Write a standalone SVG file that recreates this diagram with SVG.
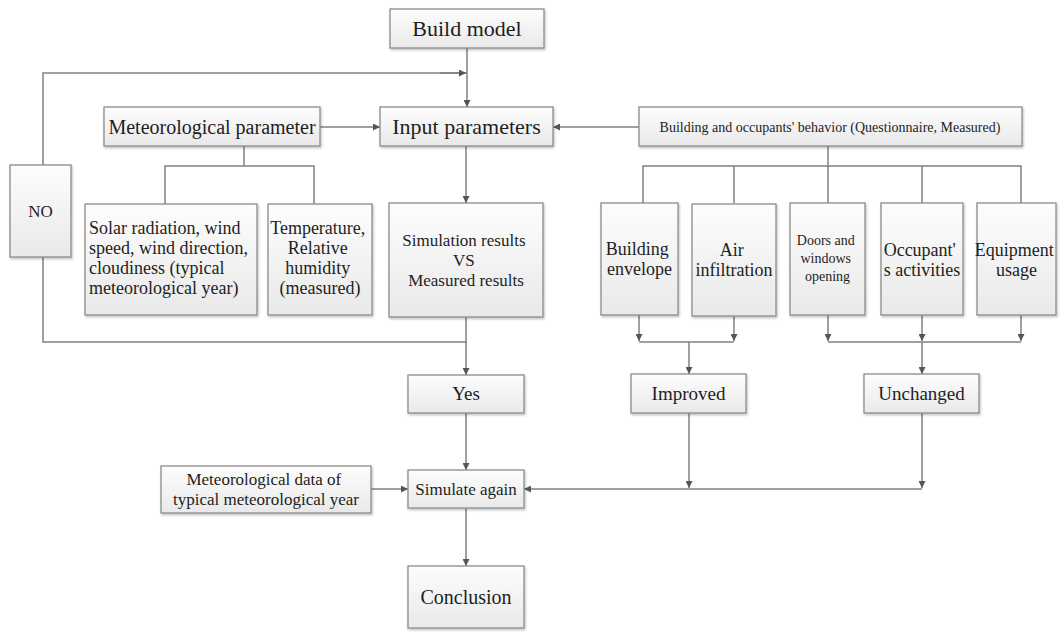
<svg xmlns="http://www.w3.org/2000/svg" width="1060" height="632" viewBox="0 0 1060 632">
  <defs>
    <linearGradient id="boxFill" x1="0" y1="0" x2="0" y2="1">
      <stop offset="0" stop-color="#fdfdfd"/>
      <stop offset="1" stop-color="#e9e9e9"/>
    </linearGradient>
    <filter id="shadow" x="-5%" y="-5%" width="115%" height="120%">
      <feDropShadow dx="1" dy="1.5" stdDeviation="0.8" flood-color="#000" flood-opacity="0.25"/>
    </filter>
    <marker id="arrow" viewBox="0 0 10 10" refX="10" refY="5" markerWidth="7" markerHeight="7" markerUnits="userSpaceOnUse" orient="auto">
      <path d="M0,0 L10,5 L0,10 z" fill="#555"/>
    </marker>
  </defs>
  <style>
    .box { fill: url(#boxFill); stroke: #8c8c8c; stroke-width: 1.3; filter: url(#shadow); }
    .t { font-family: "Liberation Serif", "Times New Roman", serif; fill: #1e1e1e; text-anchor: middle; }
    .wire { fill: none; stroke: #808080; stroke-width: 1.5; }
    .arr { fill: none; stroke: #808080; stroke-width: 1.5; marker-end: url(#arrow); }
  </style>
  <rect width="1060" height="632" fill="#ffffff"/>

  <!-- connectors -->
  <g id="connectors">
    <!-- build model to input parameters -->
    <line class="arr" x1="467" y1="48" x2="467" y2="107"/>
    <!-- NO feedback loop -->
    <polyline class="wire" points="43,165 43,73 467,73"/>
    <line class="arr" x1="440" y1="73" x2="466" y2="73"/>
    <polyline class="wire" points="467,342 43,342 43,257"/>
    <!-- side inputs -->
    <line class="arr" x1="320" y1="127" x2="380" y2="127"/>
    <line class="arr" x1="639" y1="127" x2="553" y2="127"/>
    <!-- meteorological parameter branches -->
    <line class="wire" x1="244" y1="146" x2="244" y2="166"/>
    <polyline class="wire" points="165,204 165,166 314,166 314,204"/>
    <!-- input parameters to comparison -->
    <line class="arr" x1="466" y1="146" x2="466" y2="203"/>
    <!-- comparison to Yes -->
    <line class="arr" x1="466" y1="317" x2="466" y2="375"/>
    <!-- building behaviour branches -->
    <line class="wire" x1="828" y1="146" x2="828" y2="203"/>
    <polyline class="wire" points="643,203 643,166 1021,166 1021,203"/>
    <line class="wire" x1="734" y1="166" x2="734" y2="203"/>
    <line class="wire" x1="922" y1="166" x2="922" y2="203"/>
    <!-- factors to Improved -->
    <line class="arr" x1="639" y1="315" x2="639" y2="341"/>
    <line class="arr" x1="734" y1="316" x2="734" y2="341"/>
    <line class="wire" x1="639" y1="342" x2="734" y2="342"/>
    <line class="arr" x1="689" y1="342" x2="689" y2="374"/>
    <!-- factors to Unchanged -->
    <line class="arr" x1="828" y1="315" x2="828" y2="341"/>
    <line class="arr" x1="922" y1="315" x2="922" y2="341"/>
    <line class="arr" x1="1021" y1="315" x2="1021" y2="341"/>
    <line class="wire" x1="828" y1="342" x2="1021" y2="342"/>
    <line class="arr" x1="922" y1="342" x2="922" y2="374"/>
    <!-- Improved / Unchanged to simulate again -->
    <line class="arr" x1="689" y1="413" x2="689" y2="488"/>
    <line class="arr" x1="922" y1="413" x2="922" y2="488"/>
    <line class="arr" x1="922" y1="489" x2="524" y2="489"/>
    <!-- Yes to simulate again -->
    <line class="arr" x1="466" y1="413" x2="466" y2="470"/>
    <!-- typical year data to simulate again -->
    <line class="arr" x1="371" y1="489" x2="408" y2="489"/>
    <!-- simulate again to conclusion -->
    <line class="arr" x1="466" y1="508" x2="466" y2="566"/>
  </g>

  <g id="build-model">
    <rect class="box" x="390" y="9" width="154" height="39"/>
    <text class="t" x="467" y="36" font-size="22">Build model</text>
  </g>

  <g id="input-parameters">
    <rect class="box" x="380" y="107" width="173" height="39"/>
    <text class="t" x="466.5" y="134" font-size="22">Input parameters</text>
  </g>

  <g id="meteorological-parameter">
    <rect class="box" x="104" y="107" width="216" height="39"/>
    <text class="t" x="212" y="134" font-size="20">Meteorological parameter</text>
  </g>

  <g id="building-behaviour">
    <rect class="box" x="639" y="107" width="383" height="39"/>
    <text class="t" x="830" y="132" font-size="14">Building and occupants' behavior (Questionnaire, Measured)</text>
  </g>

  <g id="no">
    <rect class="box" x="10" y="165" width="61" height="92"/>
    <text class="t" x="40.5" y="217" font-size="17">NO</text>
  </g>

  <g id="solar-radiation">
    <rect class="box" x="85" y="204" width="172" height="111"/>
    <text class="t" font-size="18" style="text-anchor:start">
      <tspan x="89" y="234">Solar radiation, wind</tspan>
      <tspan x="89" y="254">speed, wind direction,</tspan>
      <tspan x="89" y="274">cloudiness (typical</tspan>
      <tspan x="89" y="294">meteorological year)</tspan>
    </text>
  </g>

  <g id="temperature">
    <rect class="box" x="268" y="204" width="104" height="111"/>
    <text class="t" font-size="18">
      <tspan x="320" y="234">Temperature,</tspan>
      <tspan x="320" y="254">Relative</tspan>
      <tspan x="320" y="274">humidity</tspan>
      <tspan x="320" y="294">(measured)</tspan>
    </text>
  </g>

  <g id="comparison">
    <rect class="box" x="389" y="203" width="154" height="114"/>
    <text class="t" font-size="17">
      <tspan x="466" y="246">Simulation results</tspan>
      <tspan x="466" y="266">VS</tspan>
      <tspan x="466" y="286">Measured results</tspan>
    </text>
  </g>

  <g id="building-envelope">
    <rect class="box" x="601" y="203" width="77" height="112"/>
    <text class="t" font-size="18">
      <tspan x="639.5" y="255">Building</tspan>
      <tspan x="639.5" y="275">envelope</tspan>
    </text>
  </g>

  <g id="air-infiltration">
    <rect class="box" x="692" y="204" width="84" height="112"/>
    <text class="t" font-size="18">
      <tspan x="734" y="256">Air</tspan>
      <tspan x="734" y="276">infiltration</tspan>
    </text>
  </g>

  <g id="doors-windows">
    <rect class="box" x="790" y="203" width="75" height="112"/>
    <text class="t" font-size="14">
      <tspan x="827.5" y="245">Doors and</tspan>
      <tspan x="827.5" y="263">windows</tspan>
      <tspan x="827.5" y="281">opening</tspan>
    </text>
  </g>

  <g id="occupant-activities">
    <rect class="box" x="881" y="203" width="82" height="112"/>
    <text class="t" font-size="18">
      <tspan x="922" y="256">Occupant'</tspan>
      <tspan x="922" y="276">s activities</tspan>
    </text>
  </g>

  <g id="equipment-usage">
    <rect class="box" x="977" y="203" width="79" height="112"/>
    <text class="t" font-size="18">
      <tspan x="1016.5" y="256">Equipment</tspan>
      <tspan x="1016.5" y="276">usage</tspan>
    </text>
  </g>

  <g id="yes">
    <rect class="box" x="408" y="375" width="116" height="38"/>
    <text class="t" x="466" y="400" font-size="19">Yes</text>
  </g>

  <g id="improved">
    <rect class="box" x="631" y="374" width="115" height="39"/>
    <text class="t" x="688.5" y="400" font-size="19">Improved</text>
  </g>

  <g id="unchanged">
    <rect class="box" x="864" y="374" width="115" height="39"/>
    <text class="t" x="921.5" y="400" font-size="19">Unchanged</text>
  </g>

  <g id="typical-year-data">
    <rect class="box" x="161" y="466" width="210" height="47"/>
    <text class="t" font-size="17">
      <tspan x="266" y="485">Meteorological data of</tspan>
      <tspan x="266" y="505">typical meteorological year</tspan>
    </text>
  </g>

  <g id="simulate-again">
    <rect class="box" x="408" y="470" width="116" height="38"/>
    <text class="t" x="466" y="495" font-size="17">Simulate again</text>
  </g>

  <g id="conclusion">
    <rect class="box" x="408" y="566" width="116" height="62"/>
    <text class="t" x="466" y="604" font-size="20">Conclusion</text>
  </g>
</svg>
